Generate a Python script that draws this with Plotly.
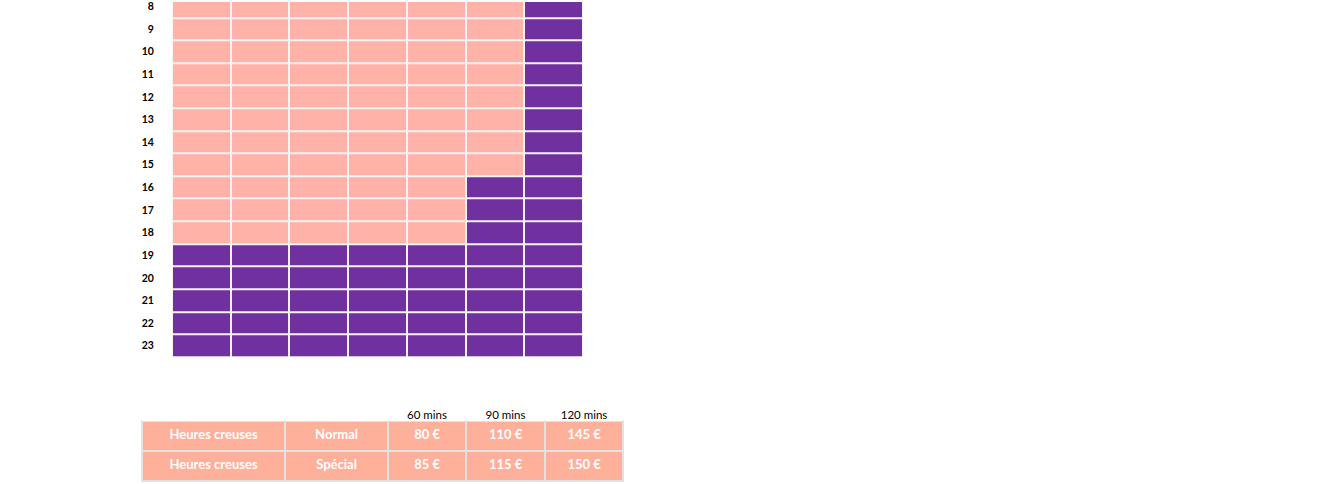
import plotly.graph_objects as go

# ---- data ----
days = ["Lundi", "Mardi", "Mercredi", "Jeudi", "Vendredi", "Samedi", "Dimanche"]
hours = list(range(8, 24))
# last off-peak hour (inclusive) per day; None = peak all day
last_offpeak_hour = [18, 18, 18, 18, 18, 15, None]

table_period = ["Heures creuses", "Heures creuses"]
table_type = ["Normal", "Spécial"]
price_60 = ["80 €", "85 €"]
price_90 = ["110 €", "115 €"]
price_120 = ["145 €", "150 €"]
duration_labels = ["", "", "60 mins", "90 mins", "120 mins"]

PINK = "#FFB3A8"
PURPLE = "#7030A0"
TABLE_PINK = "#FFB09A"

z = []
for h in hours:
    row = []
    for lim in last_offpeak_hour:
        row.append(0 if (lim is not None and h <= lim) else 1)
    z.append(row)

fig = go.Figure()
fig.add_trace(go.Heatmap(
    z=z, x=days, y=hours,
    colorscale=[[0, PINK], [1, PURPLE]],
    zmin=0, zmax=1, showscale=False,
    xgap=2, ygap=2,
    hovertemplate="%{x} %{y}h<extra></extra>",
))

fig.add_trace(go.Table(
    domain=dict(x=[0.1068, 0.4690], y=[0.0, 0.1694]),
    columnwidth=[143, 103, 78, 79, 78],
    header=dict(
        values=duration_labels,
        fill_color="white",
        line=dict(color="white", width=0),
        font=dict(family="Lato", size=11.5, color="black"),
        align="center",
        height=19,
    ),
    cells=dict(
        values=[table_period, table_type, price_60, price_90, price_120],
        fill_color=TABLE_PINK,
        line=dict(color="#E2E2E2", width=2),
        font=dict(family="Lato", size=13, color="white", weight="bold"),
        align="center",
        height=30,
    ),
))

fig.update_layout(
    width=1330, height=484,
    margin=dict(l=0, r=0, t=0, b=0),
    paper_bgcolor="white",
    plot_bgcolor="#F7F3F3",
    xaxis=dict(domain=[0.1293, 0.4383], showticklabels=False, showgrid=False,
               zeroline=False, ticks=""),
    yaxis=dict(domain=[0.2636, 1.0], range=[23.5, 7.80], tickmode="array",
               tickvals=hours, ticktext=[str(h) for h in hours],
               showgrid=False, zeroline=False, ticks="outside", ticklen=15,
               tickcolor="white", ticklabeloverflow="allow",
               tickfont=dict(family="Lato", size=10.5, color="black", weight="bold")),
    font=dict(family="Lato"),
)

fig.write_html("out.html")
